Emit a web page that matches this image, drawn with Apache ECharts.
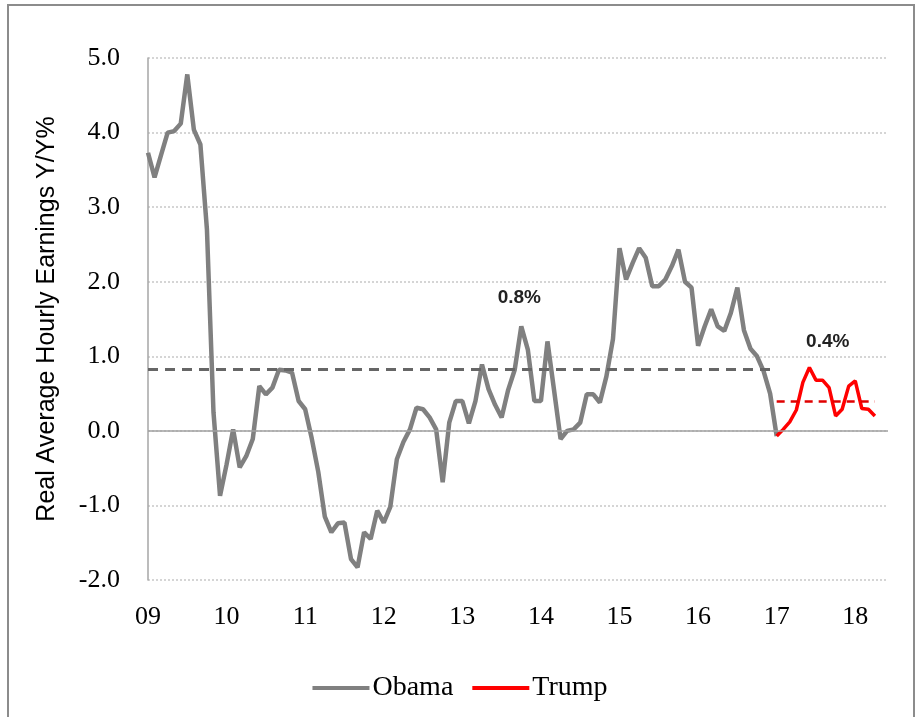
<!DOCTYPE html>
<html><head><meta charset="utf-8">
<script src="https://cdn.jsdelivr.net/npm/echarts@6/dist/echarts.min.js"></script>
<style>html,body{margin:0;padding:0;background:#fff}#c{width:920px;height:717px}</style>
</head><body><div id="c"></div>
<script>
// months since Jan 2009
const obamaStart = 0;
const obamaValues = [3.73,3.40,3.70,4.00,4.02,4.12,4.78,4.04,3.84,2.70,0.25,-0.87,-0.45,0.02,-0.49,-0.34,-0.11,0.60,0.49,0.58,0.82,0.81,0.78,0.40,0.29,-0.10,-0.55,-1.15,-1.36,-1.24,-1.23,-1.72,-1.83,-1.36,-1.45,-1.07,-1.23,-1.02,-0.38,-0.15,0.02,0.31,0.29,0.18,0.02,-0.69,0.11,0.40,0.40,0.10,0.40,0.89,0.56,0.35,0.18,0.55,0.82,1.40,1.09,0.40,0.40,1.20,0.55,-0.11,0.00,0.02,0.11,0.49,0.49,0.38,0.73,1.23,2.45,2.03,2.25,2.45,2.32,1.94,1.94,2.03,2.21,2.43,2.00,1.92,1.14,1.40,1.63,1.40,1.34,1.58,1.92,1.35,1.10,1.00,0.80,0.50,-0.07];
const trumpStart = 96;
const trumpValues = [-0.07,0.02,0.12,0.28,0.65,0.85,0.68,0.68,0.58,0.20,0.29,0.60,0.67,0.30,0.29,0.20];
const obamaAvg = 0.83, trumpAvg = 0.40;
const obamaAvgLabel = '0.8%', trumpAvgLabel = '0.4%';
const yearLabels = ['09','10','11','12','13','14','15','16','17','18'];
const seriesNames = ['Obama','Trump'];
const yAxisTitle = 'Real Average Hourly Earnings Y/Y%';

const obamaData = obamaValues.map((v,i)=>[obamaStart+i, v]);
const trumpData = trumpValues.map((v,i)=>[trumpStart+i, v]);
const serif = '"Liberation Serif","Times New Roman",serif';
const sans = '"Liberation Sans",Arial,sans-serif';

const chart = echarts.init(document.getElementById('c'));
chart.setOption({
  animation:false,
  backgroundColor:'#fff',
  graphic:[{type:'rect',shape:{x:8,y:5,width:906,height:720},style:{fill:'none',stroke:'#8c8c8c',lineWidth:2}}],
  grid:{left:148,right:32,top:58,bottom:137},
  legend:{top:669,left:'center',itemWidth:57,itemHeight:4,icon:'rect',itemGap:19,
    textStyle:{fontFamily:serif,fontSize:28,color:'#000',padding:[0,0,0,-2]},data:seriesNames},
  xAxis:{type:'value',min:0,max:113,interval:12,
    axisLine:{show:false},axisTick:{show:false},splitLine:{show:false},
    axisLabel:{margin:24,fontFamily:serif,fontSize:26,color:'#000',showMaxLabel:false,
      formatter:v=>yearLabels[Math.round(v/12)]||''}},
  yAxis:{type:'value',min:-2,max:5,interval:1,
    name:yAxisTitle,nameLocation:'middle',nameGap:88,nameRotate:90,
    nameTextStyle:{fontFamily:sans,fontSize:25,color:'#000'},
    axisLine:{show:true,lineStyle:{color:'#a6a6a6',width:1.5}},axisTick:{show:false},
    axisLabel:{margin:28,fontFamily:serif,fontSize:26,color:'#000',formatter:v=>v.toFixed(1)},
    splitLine:{show:true,lineStyle:{color:'#c8c8c8',type:[2,2],width:1.5}}},
  series:[
    {name:'Obama',type:'line',data:obamaData,symbol:'none',z:3,
     lineStyle:{color:'#808080',width:4.5},itemStyle:{color:'#808080'},
     markLine:{symbol:'none',silent:true,animation:false,
       data:[
        [{coord:[0,0],lineStyle:{color:'#a0a0a0',width:1.5,type:'solid'}},{coord:[113,0]}],
        [{coord:[obamaStart,obamaAvg],lineStyle:{color:'#666666',width:3,type:[10,7]}},{coord:[trumpStart,obamaAvg]}]
       ],label:{show:false}},
     markPoint:{symbol:'circle',symbolSize:1,itemStyle:{color:'rgba(0,0,0,0)'},
       data:[{coord:[56.7,1.79],label:{show:true,formatter:obamaAvgLabel,position:'inside',fontFamily:sans,fontWeight:'bold',fontSize:19,color:'#222'}}]}
    },
    {name:'Trump',type:'line',data:trumpData,symbol:'none',z:4,
     lineStyle:{color:'#ff0000',width:3.5},itemStyle:{color:'#ff0000'},
     markLine:{symbol:'none',silent:true,animation:false,
       data:[[{coord:[trumpStart,trumpAvg],lineStyle:{color:'#e00000',width:2.5,type:[8,6]}},{coord:[trumpStart+trumpValues.length-1,trumpAvg]}]],
       label:{show:false}},
     markPoint:{symbol:'circle',symbolSize:1,itemStyle:{color:'rgba(0,0,0,0)'},
       data:[{coord:[103.8,1.2],label:{show:true,formatter:trumpAvgLabel,position:'inside',fontFamily:sans,fontWeight:'bold',fontSize:19,color:'#222'}}]}
    }
  ]
});
</script></body></html>
